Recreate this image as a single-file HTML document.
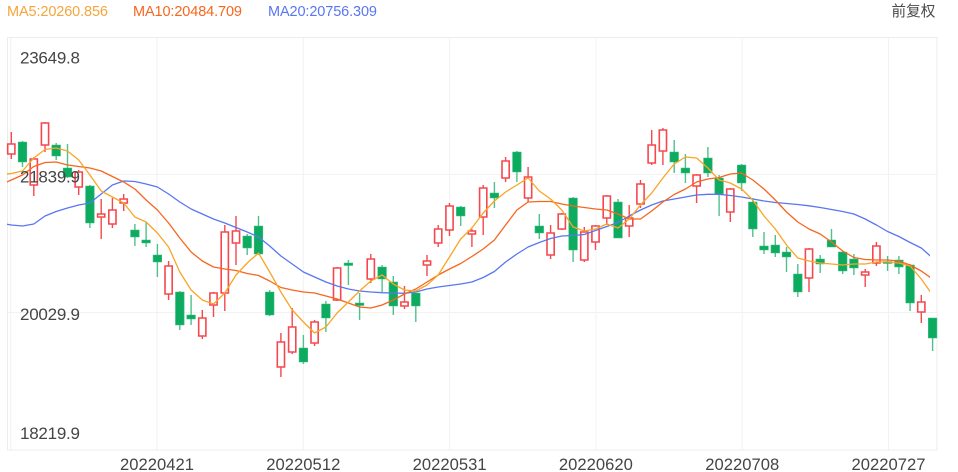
<!DOCTYPE html>
<html>
<head>
<meta charset="utf-8">
<style>
html,body{margin:0;padding:0;background:#fff;}
body{width:958px;height:472px;overflow:hidden;}
svg{display:block;font-family:"Liberation Sans","Noto Sans CJK SC",sans-serif;}
</style>
</head>
<body>
<svg width="958" height="472" viewBox="0 0 958 472" xmlns="http://www.w3.org/2000/svg">
<defs><clipPath id="plot"><rect x="7" y="37" width="923" height="413"/></clipPath></defs>
<text x="7" y="16" font-size="14.5" fill="#f6a53a" textLength="101">MA5:20260.856</text>
<text x="133" y="16" font-size="14.5" fill="#f7661f" textLength="109">MA10:20484.709</text>
<text x="268" y="16" font-size="14.5" fill="#5a76f2" textLength="109">MA20:20756.309</text>
<text x="891.5" y="16" font-size="14.6" fill="#4a4a4a">前复权</text>
<path fill="none" stroke="#f2f2f2" stroke-width="1" d="M7 174.5H937M7 312.5H937M10.7 37V450M157 37V450M303.3 37V450M449.6 37V450M595.9 37V450M742.2 37V450M888.5 37V450"/>
<rect x="7.5" y="37.5" width="929.5" height="412.5" fill="none" stroke="#ececec" stroke-width="1"/>
<path fill="none" stroke="#4fc28b" stroke-width="1.4" d="M22.5 141V167M56.2 143V160M67.5 144V178M89.9 185V228M134.9 224V246M146.1 222V247M157.4 244V277M179.8 291V330M191.1 295V325M247.2 234V255M258.5 216V255M269.7 290V316M303.4 335V364M325.9 301V332M348.4 260V285M359.6 293V320M382.1 265V292M393.3 276V315M415.8 293V322M460.7 206V226M494.4 182V208M516.9 151V182M539.3 214V239M573.1 197V262M618.0 199V238M674.2 140V173M685.4 154V183M707.9 147V177M719.1 175V216M741.6 164V191M752.8 198V237M764.0 232V254M775.3 235V257M786.5 247V272M797.8 264V297M820.2 255V273M831.5 229V247M842.7 251V274M853.9 254V275M887.6 256V271M898.9 256V274M910.1 264V311M932.6 318V351"/>
<path fill="none" stroke="#f5484e" stroke-width="1.4" d="M11.3 132V159M33.8 157V196M45.0 122V152M78.7 170V195M101.2 199V239M112.4 198V228M123.7 194V211M168.6 261V300M202.3 310V339M213.5 292V317M224.8 225V311M236.0 216V265M280.9 333V377M292.2 308V354M314.6 320V346M337.1 267V301M370.8 254V283M404.5 286V309M427.0 255V276M438.2 225V247M449.5 203V236M471.9 229V247M483.2 185V235M505.6 157V182M528.1 167V202M550.6 225V259M561.8 213V230M584.3 227V262M595.5 225V250M606.8 195V225M629.2 205V237M640.5 180V208M651.7 130V165M662.9 128V165M696.6 174V203M730.3 188V222M809.0 248V292M865.2 269V287M876.4 242V266M921.3 295V323"/>
<path fill="#0dab60" stroke="#3dbd80" stroke-width="0.6" d="M18.2 142h8.6v20h-8.6zM51.9 145h8.6v11h-8.6zM63.2 168h8.6v9h-8.6zM85.6 186h8.6v37h-8.6zM130.6 230h8.6v7h-8.6zM141.8 240h8.6v3h-8.6zM153.1 255h8.6v7h-8.6zM175.5 292h8.6v33h-8.6zM186.8 315h8.6v4h-8.6zM242.9 236h8.6v12h-8.6zM254.2 226h8.6v28h-8.6zM265.4 292h8.6v23h-8.6zM299.1 348h8.6v14h-8.6zM321.6 304h8.6v14h-8.6zM344.1 263h8.6v2.5h-8.6zM355.3 303h8.6v2.5h-8.6zM377.8 267h8.6v12h-8.6zM389.0 282h8.6v24h-8.6zM411.5 293h8.6v13h-8.6zM456.4 207h8.6v9h-8.6zM490.1 193h8.6v5h-8.6zM512.6 152h8.6v20h-8.6zM535.0 226h8.6v7h-8.6zM568.8 198h8.6v52h-8.6zM613.7 202h8.6v36h-8.6zM669.9 152h8.6v10h-8.6zM681.1 168h8.6v5h-8.6zM703.6 158h8.6v15h-8.6zM714.8 178h8.6v16h-8.6zM737.3 165h8.6v18h-8.6zM748.5 202h8.6v27h-8.6zM759.7 246h8.6v4h-8.6zM771.0 245h8.6v8h-8.6zM782.2 252h8.6v5h-8.6zM793.5 274h8.6v18h-8.6zM815.9 259h8.6v5h-8.6zM827.2 240h8.6v7h-8.6zM838.4 252h8.6v19h-8.6zM849.6 259h8.6v9h-8.6zM883.3 261.5h8.6v2h-8.6zM894.6 260h8.6v7h-8.6zM905.8 265h8.6v38h-8.6zM928.3 318h8.6v20h-8.6z"/>
<path fill="#ffffff" stroke="#f5484e" stroke-width="1.6" d="M7.7 144h7.2v10h-7.2zM30.2 159h7.2v26h-7.2zM41.4 123h7.2v22h-7.2zM75.1 172h7.2v15h-7.2zM97.6 214h7.2v3h-7.2zM108.8 210h7.2v14h-7.2zM120.1 199h7.2v4h-7.2zM165.0 266h7.2v28h-7.2zM198.7 318h7.2v18h-7.2zM209.9 293h7.2v12h-7.2zM221.2 232h7.2v61h-7.2zM232.4 231h7.2v12h-7.2zM277.3 342h7.2v25h-7.2zM288.6 327h7.2v25h-7.2zM311.0 322h7.2v21h-7.2zM333.5 268h7.2v32h-7.2zM367.2 259h7.2v20h-7.2zM400.9 302h7.2v4h-7.2zM423.4 261h7.2v4h-7.2zM434.6 229h7.2v14h-7.2zM445.9 206h7.2v24h-7.2zM468.3 231h7.2v3h-7.2zM479.6 188h7.2v29h-7.2zM502.0 161h7.2v17h-7.2zM524.5 177h7.2v21h-7.2zM547.0 233h7.2v22h-7.2zM558.2 214h7.2v15h-7.2zM580.7 232h7.2v28h-7.2zM591.9 226h7.2v16h-7.2zM603.2 196h7.2v22h-7.2zM625.6 218h7.2v8h-7.2zM636.9 184h7.2v20h-7.2zM648.1 145h7.2v18h-7.2zM659.3 130h7.2v21h-7.2zM693.0 175h7.2v11h-7.2zM726.7 189h7.2v23h-7.2zM805.4 249h7.2v29h-7.2zM861.6 272h7.2v3h-7.2zM872.8 246h7.2v17h-7.2zM917.7 302h7.2v10h-7.2z"/>
<g clip-path="url(#plot)" fill="none" stroke-width="1.3" stroke-linejoin="round">
<polyline stroke="#5a76f2" points="0,223 11.3,225 22.5,226 33.8,224 45.0,216 56.2,211.5 67.5,208 78.7,205 89.9,203 101.2,194 112.4,185 123.7,181 134.9,181.5 146.1,184 157.4,187 168.6,194 179.8,202 191.1,209 202.3,214 213.5,219 224.8,223 236.0,227.5 247.2,232 258.5,237 269.7,246 280.9,256 292.2,264 303.4,272 314.6,277 325.9,282 337.1,286 348.4,289 359.6,291 370.8,292 382.1,292.7 393.3,293 404.5,293.3 415.8,292 427.0,289 438.2,287 449.5,285.5 460.7,284 471.9,282 483.2,277.5 494.4,271.5 505.6,262 516.9,254 528.1,247 539.3,242.5 550.6,238.5 561.8,236 573.1,235.5 584.3,234.5 595.5,230.5 606.8,226.5 618.0,222.5 629.2,216 640.5,210 651.7,205 662.9,201 674.2,199 685.4,197 696.6,195 707.9,194.3 719.1,194.3 730.3,195.5 741.6,197 752.8,199 764.0,201 775.3,202.5 786.5,203.5 797.8,204.5 809.0,205.8 820.2,207.5 831.5,209.5 842.7,211.5 853.9,214 865.2,219 876.4,225 887.6,231.5 898.9,236.5 910.1,242.5 921.3,248 932.6,258"/>
<polyline stroke="#f7661f" points="0,185 11.3,180 22.5,175 33.8,166.5 45.0,162.5 56.2,162 67.5,165 78.7,166.5 89.9,168 101.2,171 112.4,176.5 123.7,182 134.9,189 146.1,200 157.4,210 168.6,223 179.8,238 191.1,252 202.3,261 213.5,267 224.8,269 236.0,270.5 247.2,273.5 258.5,275.5 269.7,281 280.9,287.5 292.2,290 303.4,292 314.6,293 325.9,296 337.1,299 348.4,303 359.6,307 370.8,308 382.1,305 393.3,300 404.5,294 415.8,289 427.0,282 438.2,275 449.5,269 460.7,263.5 471.9,256.5 483.2,249 494.4,240 505.6,225 516.9,210 528.1,202 539.3,201.5 550.6,201.5 561.8,204 573.1,206 584.3,207.5 595.5,209 606.8,210 618.0,214 629.2,219 640.5,219 651.7,211 662.9,202 674.2,194.5 685.4,189 696.6,182 707.9,179 719.1,177.5 730.3,174 741.6,173 752.8,180 764.0,189 775.3,200 786.5,212 797.8,222 809.0,229 820.2,234 831.5,242 842.7,251 853.9,257.5 865.2,259.5 876.4,260 887.6,260 898.9,261 910.1,265 921.3,271 932.6,279"/>
<polyline stroke="#f9a526" points="0,175 11.3,173.5 22.5,171 33.8,158 45.0,149.5 56.2,148 67.5,151 78.7,160 89.9,175 101.2,191 112.4,197 123.7,203 134.9,217 146.1,222 157.4,233 168.6,247 179.8,272 191.1,290 202.3,300 213.5,304 224.8,293 236.0,275 247.2,263 258.5,253 269.7,272 280.9,292 292.2,310 303.4,322 314.6,333 325.9,327 337.1,313 348.4,302 359.6,291 370.8,281 382.1,275 393.3,284 404.5,290 415.8,291 427.0,285 438.2,275 449.5,257 460.7,239 471.9,228 483.2,213 494.4,201 505.6,192 516.9,185 528.1,178 539.3,191 550.6,199 561.8,210 573.1,227 584.3,231 595.5,229 606.8,224 618.0,228 629.2,219 640.5,205 651.7,193 662.9,178 674.2,164 685.4,157 696.6,158 707.9,168 719.1,180 730.3,183 741.6,189 752.8,200 764.0,216 775.3,229 786.5,245 797.8,258 809.0,261 820.2,263 831.5,264 842.7,265 853.9,264 865.2,264 876.4,262 887.6,262 898.9,263 910.1,266 921.3,279 932.6,295"/>
</g>
<g font-size="17" fill="#454545">
<text x="20" y="63.3" textLength="60">23649.8</text>
<text x="20" y="182.5" textLength="60">21839.9</text>
<text x="20" y="320" textLength="60">20029.9</text>
<text x="20" y="439" textLength="60">18219.9</text>
</g>
<g font-size="16.6" fill="#454545" text-anchor="middle">
<text x="157" y="470" textLength="74">20220421</text>
<text x="303.3" y="470" textLength="74">20220512</text>
<text x="449.6" y="470" textLength="74">20220531</text>
<text x="595.9" y="470" textLength="74">20220620</text>
<text x="742.2" y="470" textLength="74">20220708</text>
<text x="888.5" y="470" textLength="74">20220727</text>
</g>
</svg>
</body>
</html>
